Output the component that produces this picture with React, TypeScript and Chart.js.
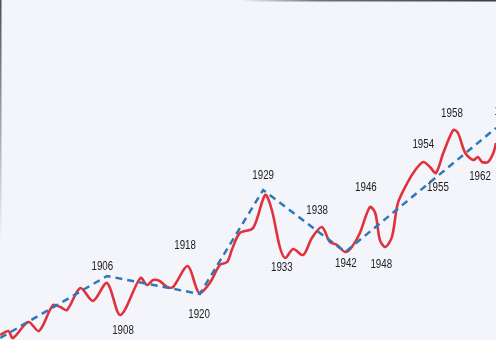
import React, { useEffect, useRef } from "react";
import { Chart, registerables } from "chart.js";

Chart.register(...registerables);

// Red series (index)
const redYears = [
  1889.9, 1891.1, 1891.8, 1894.1, 1895.7, 1897.8, 1898.9, 1899.9, 1901.9, 1903.8,
  1905.9, 1907.9, 1910.9, 1911.9, 1912.8, 1913.8, 1914.9, 1915.8, 1918.0, 1919.7,
  1921.3, 1922.8, 1923.9, 1924.6, 1925.8, 1927.8, 1929.6, 1930.6, 1931.8, 1932.6,
  1933.8, 1935.3, 1936.6, 1938.1, 1939.3, 1940.4, 1941.6, 1942.6, 1943.8, 1945.3,
  1946.1, 1946.8, 1947.6, 1948.6, 1949.5, 1950.9, 1952.1, 1953.3, 1954.3, 1955.2,
  1956.3, 1957.8, 1958.5, 1959.6, 1960.8, 1961.5, 1962.1, 1963.0, 1963.8, 1964.2,
];
const redValues = [
  2.5, 4.5, 1, 9, 4.5, 17.5, 16.5, 15, 26, 19.5,
  28.5, 12.5, 31, 27.5, 30, 29.5, 26.5, 26.5, 37, 23.5,
  28.5, 37.5, 39, 45, 53.5, 56, 72.5, 65, 46.5, 41,
  45.5, 42.5, 51, 56.5, 49, 47.5, 44, 46.5, 53.5, 66.5,
  63.5, 50, 46.5, 51.5, 68.5, 78.5, 85, 89, 86.5, 83.5,
  93.5, 105, 103.5, 93.5, 90, 91.5, 89, 89, 93.5, 98.5,
];

// Blue dashed trend
const trendYears = [1889.9, 1905.9, 1919.8, 1929.3, 1941.6, 1964.2];
const trendValues = [1, 32, 23, 75, 44, 106];

// Annotation labels
const labelTexts = ["1906", "1908", "1918", "1920", "1929", "1933", "1938", "1942", "1946", "1948", "1954", "1955", "1958", "1962", "1965"];
const labelYears = [1905.2, 1908.3, 1917.6, 1919.7, 1929.3, 1932.1, 1937.4, 1941.7, 1944.7, 1947.0, 1953.3, 1955.5, 1957.6, 1961.8, 1965.6];
const labelValues = [36.5, 4.5, 47, 12.5, 82, 36, 64.5, 38, 76, 37.5, 97.5, 76, 113, 81.5, 114];

const labelPlugin = {
  id: "yearLabels",
  afterDatasetsDraw(chart: any) {
    const { ctx, scales } = chart;
    ctx.save();
    ctx.fillStyle = "#222222";
    ctx.font = "12.5px 'Liberation Sans', Arial, sans-serif";
    ctx.textAlign = "center";
    ctx.textBaseline = "middle";
    for (let i = 0; i < labelTexts.length; i++) {
      const x = scales.x.getPixelForValue(labelYears[i]);
      const y = scales.y.getPixelForValue(labelValues[i]);
      ctx.save();
      ctx.translate(x, y);
      ctx.scale(0.78, 1);
      ctx.fillText(labelTexts[i], 0, 0);
      ctx.restore();
    }
    ctx.restore();
  },
};

const bgPlugin = {
  id: "bg",
  beforeDraw(chart: any) {
    const { ctx, width, height } = chart;
    ctx.save();
    ctx.fillStyle = "#f4f5fa";
    ctx.fillRect(0, 0, width, height);
    // scan edge shading
    const g = ctx.createLinearGradient(0, 0, 0, 240);
    g.addColorStop(0, "rgba(60,60,60,0.9)");
    g.addColorStop(1, "rgba(60,60,60,0)");
    ctx.fillStyle = g;
    ctx.fillRect(0, 0, 1.5, 240);
    const h = ctx.createLinearGradient(240, 0, 496, 0);
    h.addColorStop(0, "rgba(60,60,60,0)");
    h.addColorStop(0.3, "rgba(60,60,60,0.7)");
    h.addColorStop(1, "rgba(40,40,40,0.9)");
    ctx.fillStyle = h;
    ctx.fillRect(240, 0, 256, 1.5);
    ctx.restore();
  },
};

export default function App() {
  const ref = useRef<HTMLCanvasElement>(null);
  useEffect(() => {
    if (!ref.current) return;
    const chart = new Chart(ref.current, {
      type: "line",
      data: {
        datasets: [
          {
            data: trendYears.map((x, i) => ({ x, y: trendValues[i] })),
            borderColor: "#2f78b8",
            borderWidth: 2.5,
            borderDash: [7, 5],
            pointRadius: 0,
            tension: 0,
            fill: false,
          },
          {
            data: redYears.map((x, i) => ({ x, y: redValues[i] })),
            borderColor: "#e0323c",
            borderWidth: 2.6,
            pointRadius: 0,
            tension: 0.3,
            fill: false,
          },
        ],
      },
      options: {
        animation: false,
        responsive: false,
        maintainAspectRatio: false,
        layout: { padding: 0 },
        plugins: { legend: { display: false }, tooltip: { enabled: false } },
        scales: {
          x: { type: "linear", min: 1889.86, max: 1964.2, display: false },
          y: { min: 0, max: 170, display: false },
        },
      },
      plugins: [bgPlugin, labelPlugin],
    });
    return () => chart.destroy();
  }, []);
  return (
    <div style={{ position: "fixed", left: 0, top: 0, width: 496, height: 340 }}>
      <canvas ref={ref} width={496} height={340} style={{ display: "block" }} />
    </div>
  );
}
